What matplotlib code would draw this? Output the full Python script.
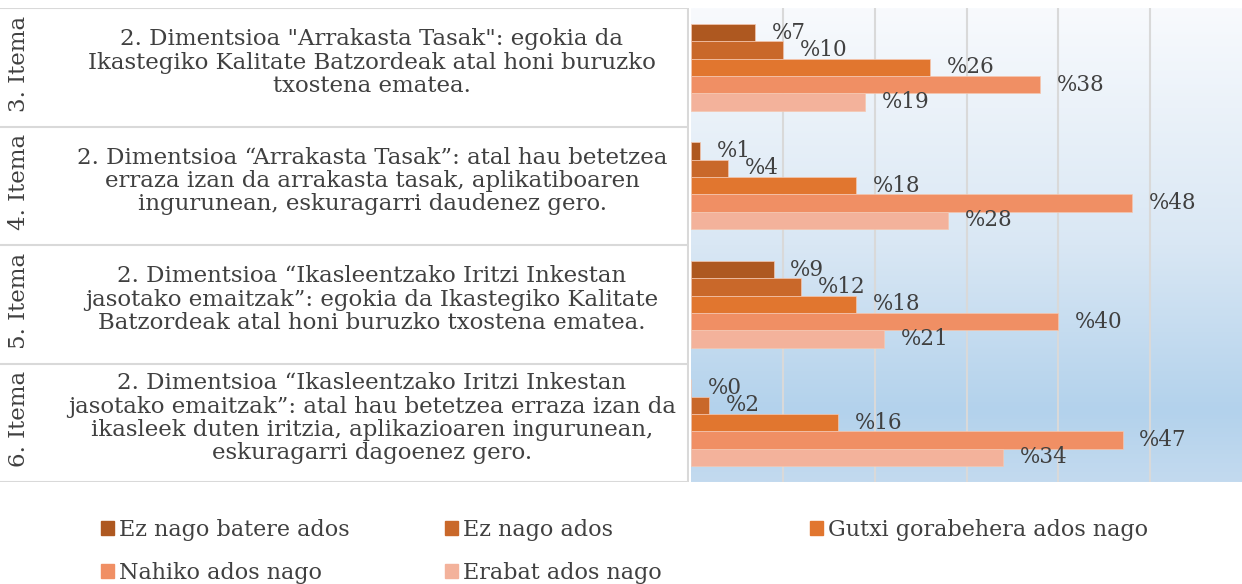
import matplotlib.pyplot as plt
import numpy as np
from matplotlib.colors import LinearSegmentedColormap
from matplotlib.patches import Patch

items = ['3. Itema', '4. Itema', '5. Itema', '6. Itema']
questions = [
    '2. Dimentsioa "Arrakasta Tasak": egokia da\nIkastegiko Kalitate Batzordeak atal honi buruzko\ntxostena ematea.',
    '2. Dimentsioa \u201cArrakasta Tasak\u201d: atal hau betetzea\nerraza izan da arrakasta tasak, aplikatiboaren\ningurunean, eskuragarri daudenez gero.',
    '2. Dimentsioa \u201cIkasleentzako Iritzi Inkestan\njasotako emaitzak\u201d: egokia da Ikastegiko Kalitate\nBatzordeak atal honi buruzko txostena ematea.',
    '2. Dimentsioa \u201cIkasleentzako Iritzi Inkestan\njasotako emaitzak\u201d: atal hau betetzea erraza izan da\nikasleek duten iritzia, aplikazioaren ingurunean,\neskuragarri dagoenez gero.',
]
series = ['Ez nago batere ados', 'Ez nago ados', 'Gutxi gorabehera ados nago',
          'Nahiko ados nago', 'Erabat ados nago']
ez_batere = [7, 1, 9, 0]
ez_ados = [10, 4, 12, 2]
gutxi = [26, 18, 18, 16]
nahiko = [38, 48, 40, 47]
erabat = [19, 28, 21, 34]
values = [ez_batere, ez_ados, gutxi, nahiko, erabat]
colors = ['#AE5820', '#C9682A', '#E1762F', '#F08F64', '#F3B29B']

plt.rcParams['font.family'] = ['DejaVu Serif']
txt_color = '#404040'
W, H = 1242, 584
fig = plt.figure(figsize=(W / 100, H / 100), dpi=100)

top_px, bot_px, left_px = 8, 482, 691
ax = fig.add_axes([left_px / W, 1 - bot_px / H, 1 - left_px / W, (bot_px - top_px) / H])

# gradient background
cmap = LinearSegmentedColormap.from_list('bg', [(0, '#F8FAFD'), (0.5, '#D9E7F4'),
                                                (0.85, '#B3D2EC'), (1, '#C3DAEF')])
grad = np.linspace(0, 1, 256).reshape(-1, 1)
ax.imshow(grad, cmap=cmap, aspect='auto', extent=[0, 60, 3.5, -0.5], zorder=0)

bh = 0.146
y = np.arange(len(items))
for j, (vals, col) in enumerate(zip(values, colors)):
    ypos = y + (j - 2) * bh
    ax.barh(ypos, vals, height=bh, color=col, edgecolor='#F5C7B0', linewidth=0.5, zorder=3)
    for yy, v in zip(ypos, vals):
        ax.annotate(f'%{v}', (v, yy), xytext=(12, 0), textcoords='offset points',
                    va='center', ha='left', fontsize=15.5, color=txt_color, zorder=4)

ax.set_xlim(0, 60)
ax.set_ylim(3.5, -0.5)
for gx in range(10, 60, 10):
    ax.axvline(gx, color='#D9D9D9', lw=1.5, zorder=1)
ax.set_xticks([])
ax.set_yticks([])
for s in ax.spines.values():
    s.set_visible(False)

# category table on the left
lab = fig.add_axes([0, 1 - bot_px / H, 689 / W, (bot_px - top_px) / H])
lab.set_xlim(0, 689)
lab.set_ylim(3.5, -0.5)
lab.axis('off')
for b in np.arange(-0.5, 4, 1):
    lab.axhline(b, color='#D9D9D9', lw=1.5)
lab.axvline(688, color='#D9D9D9', lw=1.5)
for i, (it, q) in enumerate(zip(items, questions)):
    lab.text(19, i - 0.03, it, rotation=90, ha='center', va='center', fontsize=16.5,
             color=txt_color)
    lab.text(372, i - 0.04, q, ha='center', va='center', fontsize=16.5, color=txt_color,
             linespacing=1.06)

# legend: three columns, filled row by row
handles = [Patch(color=c, label=s) for c, s in zip(colors, series)]
columns = [[0, 3], [1, 4], [2]]
col_x = [101, 445, 810]
for idx, cx in zip(columns, col_x):
    fig.legend([handles[k] for k in idx], [series[k] for k in idx],
               loc='upper left', bbox_to_anchor=(cx / W, 1 - 519 / H), frameon=False,
               fontsize=16, handlelength=0.6, handleheight=0.6, handletextpad=0.2,
               borderpad=0, borderaxespad=0, labelcolor=txt_color, labelspacing=0.95)

fig.savefig('out.png', dpi=100)
